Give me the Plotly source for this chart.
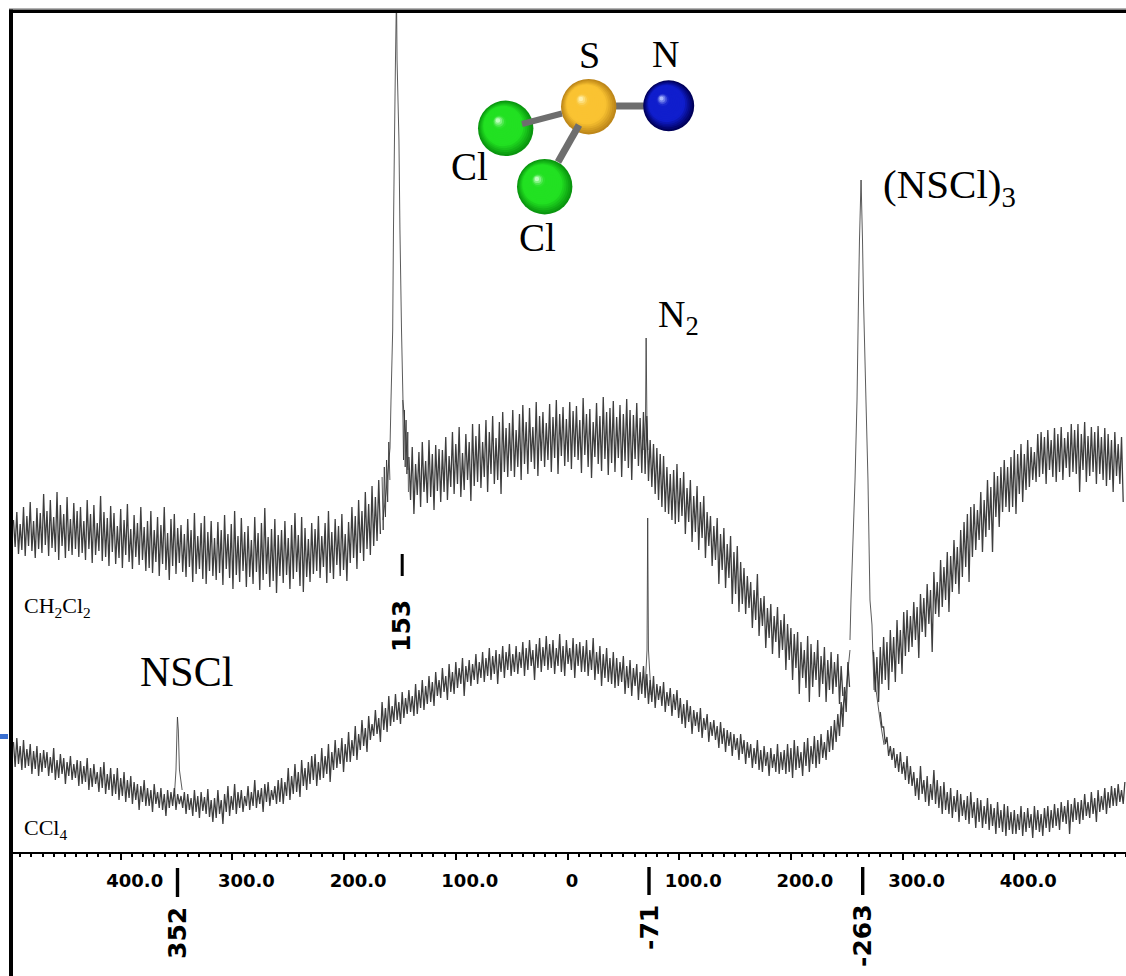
import plotly.graph_objects as go

W, H = 1126, 976
PX0, PX_PER_UNIT = 567.5, 1.117
AXIS_PY = 852
SAMPLE_STEP = 1.5

# Spectrum samples (intensity above the axis), alternating crest / trough
top_left_start = 496
top_left = [
332,305,340,298,328,302,345,296,336,306,350,301,331,294,344,303,339,299,358,307,
341,296,352,304,335,300,360,292,347,306,338,294,355,301,333,297,349,303,341,295,
345,299,331,292,352,303,338,289,347,297,329,301,356,291,340,295,334,286,346,300,
339,288,326,294,343,284,332,297,348,290,323,283,337,295,329,287,345,292,325,281,
331,284,341,279,322,290,335,276,327,288,345,282,319,272,333,286,338,278,324,289,
327,280,318,275,333,285,322,270,339,278,316,283,329,273,336,268,320,281,331,276,
314,272,330,279,322,267,337,283,318,274,328,263,341,277,316,270,334,281,320,265,
326,275,312,268,335,280,319,262,329,272,344,278,315,265,323,271,333,259,317,276,
322,269,331,277,314,263,327,273,339,280,317,266,335,260,324,275,313,270,329,278,
323,281,336,274,316,285,329,269,341,279,320,273,333,287,326,276,338,282,318,271,
330,289,345,294,336,283,352,299,341,291,360,303,348,297,366,306,355,311,372,318,
]
top_mid_start = 142
top_mid = [
395,352,405,338,388,357,400,345,410,360,391,349,412,355,398,342,407,361,403,350,
402,360,415,352,396,365,420,358,408,368,425,355,399,362,418,372,410,351,428,366,
416,370,428,364,410,375,432,360,420,378,436,368,414,372,430,358,440,380,424,375,
429,381,442,375,422,385,438,372,447,388,430,378,444,390,425,383,450,376,436,391,
440,385,429,392,448,380,435,394,452,378,438,396,445,386,433,390,450,383,441,395,
446,392,432,379,454,397,438,385,443,374,430,395,449,388,436,381,455,393,440,377,
444,389,451,380,435,394,447,375,438,391,453,384,442,372,437,393,449,386,434,379,
440,378,436,371,412,365,408,358,404,352,398,345,396,340,385,338,378,332,382,328,
388,330,374,336,380,318,364,330,372,310,356,320,366,302,350,314,356,294,340,306,
336,286,326,292,334,268,318,282,324,264,308,274,316,248,300,258,306,240,290,248,
284,238,276,244,270,224,262,232,278,216,254,226,256,204,244,214,248,198,236,210,
245,194,232,202,238,182,228,192,224,172,218,184,220,158,210,174,202,164,216,150,
208,165,200,172,212,155,196,168,205,150,192,162,200,158,190,165,198,148,186,156,
]
top_right_start = -274
top_right = [
200,160,195,150,205,168,215,172,210,162,222,180,215,170,232,188,222,178,240,196,
242,200,236,205,250,212,245,194,258,220,254,215,268,228,262,200,280,238,270,235,
292,245,285,252,300,240,296,260,312,268,305,258,322,275,330,285,338,270,345,295,
348,302,342,312,360,300,352,315,372,322,365,300,380,335,376,325,385,340,392,345,
385,340,395,345,402,338,398,358,408,350,398,362,412,365,405,372,400,370,418,375,
420,378,415,368,422,382,412,375,424,370,418,380,425,372,414,384,420,375,428,380,
422,378,428,360,418,382,430,370,416,376,425,380,420,368,426,378,415,372,424,366,
418,372,412,360,420,376,408,368,415,350,
]
bottom_left_start = 496
bottom_left = [
110,85,114,88,106,82,112,84,103,86,108,78,101,83,106,76,99,80,102,84,
100,76,95,79,104,72,92,74,98,78,94,68,90,76,96,72,88,74,92,66,
91,68,86,70,94,62,84,65,88,68,80,60,85,64,90,58,78,62,84,56,
78,58,84,52,74,56,80,50,72,54,76,48,70,52,68,42,66,50,72,46,
64,46,62,40,68,48,60,44,64,42,58,36,62,44,60,46,64,42,58,48,
56,44,60,38,58,42,54,36,62,40,56,34,60,41,55,38,63,35,52,30,
54,34,62,38,52,28,58,40,66,36,56,42,68,38,60,44,62,40,56,46,
66,42,60,46,72,44,62,48,64,40,68,50,70,46,62,52,66,48,72,50,
74,48,70,56,84,52,76,58,88,60,80,55,92,66,84,62,90,68,96,72,
98,66,90,72,104,74,96,78,108,70,100,82,112,84,104,88,114,80,108,90,
120,90,112,96,126,92,118,102,132,106,124,100,136,112,128,116,142,118,134,110,
150,122,144,120,156,126,146,130,158,132,150,128,160,134,154,138,162,140,156,136,
168,138,162,144,172,142,166,148,176,150,170,146,180,156,172,154,184,160,176,152,
188,160,180,158,190,164,184,168,194,156,186,170,192,166,188,172,198,168,190,174,
200,170,194,176,204,172,196,178,202,168,198,180,206,174,200,182,208,176,198,180,
206,178,200,184,210,176,204,182,212,186,202,172,208,184,214,180,205,186,216,182,
208,184,212,178,204,186,218,180,206,176,212,188,204,182,214,174,208,186,210,180,
206,180,212,176,202,182,214,172,200,178,206,166,198,174,204,170,194,168,200,164,
194,166,190,170,196,158,186,164,192,156,184,166,188,152,180,158,186,154,178,148,
172,150,176,144,168,152,166,146,170,140,160,146,164,136,158,142,162,134,154,128,
148,124,152,130,146,118,142,126,140,120,144,114,134,122,138,110,130,116,132,112,
126,104,130,108,124,100,122,106,120,96,118,102,114,92,118,98,112,88,110,94,
108,84,104,88,112,82,102,80,106,86,100,76,104,84,98,80,108,78,100,82,
102,78,108,80,104,74,112,82,106,84,100,76,110,86,114,80,106,88,116,84,
112,88,118,94,110,92,122,100,126,102,132,110,138,116,150,125,165,140,190,165,
]
bottom_right_start = -280
bottom_right = [
140,125,125,108,115,96,106,92,104,84,98,80,100,78,90,72,96,68,86,66,
80,56,74,52,86,58,72,50,76,46,68,52,82,48,72,44,66,38,70,42,
60,38,64,34,56,40,62,30,58,36,52,32,56,28,60,34,50,24,54,30,
52,24,46,28,54,22,48,26,44,18,50,24,42,20,48,16,46,22,40,18,
42,18,38,22,46,16,40,20,44,24,38,14,46,22,42,20,38,16,44,24,
46,20,42,24,48,26,44,22,50,30,46,28,52,18,48,30,54,32,50,28,
52,32,58,36,50,34,60,38,54,30,62,40,56,42,64,38,60,44,66,46,
64,46,68,50,62,48,70,
]

# Resonance peaks
peak153_x = [165.2,162.5,158.9,158,156.5,155.8,154.9,154,153.1,152.6,150.9,150,148.6,147.3,144.6,142.8]
peak153_y = [332,359,404,452,522,622,712,792,860,792,712,622,522,452,412,382]
flank153_left_x = [166,165,164,163,162,161,160,159]
flank153_left_y = [375,322,385,335,392,350,410,372]
flank153_right_x = [147.5,146.8,146,145.3,144.5,143.8,143,142.4]
flank153_right_y = [452,392,442,385,432,378,420,360]
peak263_x = [-252.9,-253.8,-257.4,-259.2,-260.5,-261.4,-262.8,-264.1,-265,-267.2,-269,-270.8,-272.6,-274.4]
peak263_y = [212,252,372,452,552,612,672,612,552,452,372,252,227,162]
n2_top_x = [-68.4,-69.8,-70.4,-71.1,-72]
n2_top_y = [402,432,514,432,402]
n2_low_x = [-69.4,-71.2,-71.8,-72.5,-74.8]
n2_low_y = [162,202,334,202,157]
nscl_x = [351.8,350.5,349.6,349.2,348.4,347.4,345]
nscl_y = [59,82,122,135,122,82,62]
ccl4_left_x = [-245.7,-249.3,-252.9]
ccl4_left_y = [140,162,202]
ccl4_right_x = [-273.5,-276.2,-279.8,-283.4]
ccl4_right_y = [202,162,132,107]

tick_vals = [400,300,200,100,0,-100,-200,-300,-400]
NB = "\u00a0"
tick_labels = ["400.0","300.0","200.0","100.0","0"+NB*3,"100.0","200.0","300.0","400.0"]

X_RANGE = [(PX0 - 13) / PX_PER_UNIT, (PX0 - W) / PX_PER_UNIT]
BAND = dict(color="rgba(20,20,20,0.82)", width=1.3, simplify=False)
THIN = dict(color="rgba(50,50,50,0.8)", width=1, simplify=False)

fig = go.Figure()
for start, vals in [(top_left_start, top_left), (top_mid_start, top_mid), (top_right_start, top_right),
                    (bottom_left_start, bottom_left), (bottom_right_start, bottom_right)]:
    fig.add_trace(go.Scatter(x=[start - SAMPLE_STEP * i for i in range(len(vals))], y=vals,
                             mode="lines", line=BAND, hoverinfo="skip", showlegend=False))
for xs, ys in [(peak153_x, peak153_y), (flank153_left_x, flank153_left_y), (flank153_right_x, flank153_right_y),
               (peak263_x, peak263_y), (n2_top_x, n2_top_y), (n2_low_x, n2_low_y),
               (nscl_x, nscl_y), (ccl4_left_x, ccl4_left_y), (ccl4_right_x, ccl4_right_y)]:
    fig.add_trace(go.Scatter(x=xs, y=ys, mode="lines", line=THIN, hoverinfo="skip", showlegend=False))


def px(x):
    return x / W


def py(y):
    return 1 - y / H


shapes = []


def rect(x0, y0, x1, y1, color):
    shapes.append(dict(type="rect", xref="paper", yref="paper", x0=px(x0), x1=px(x1), y0=py(y0), y1=py(y1),
                       fillcolor=color, line=dict(width=0)))


def lerp(a, b, t):
    return tuple(a[i] + (b[i] - a[i]) * t for i in range(3))


def sphere(cx, cy, r, edge, mid, light):
    n = 18
    for k in range(n):
        t = k / (n - 1)
        c = lerp(edge, mid, min(t / 0.3, 1)) if t < 0.78 else lerp(mid, light, ((t - 0.78) / 0.22) ** 1.6)
        rr = r * (1 - t * 0.92)
        ox, oy = cx - 0.28 * r * t, cy - 0.28 * r * t
        shapes.append(dict(type="circle", xref="paper", yref="paper",
                           x0=px(ox - rr), x1=px(ox + rr), y0=py(oy + rr), y1=py(oy - rr),
                           fillcolor="rgb(%d,%d,%d)" % c, line=dict(width=0)))


def bond(x0, y0, x1, y1, w):
    shapes.append(dict(type="line", xref="paper", yref="paper", x0=px(x0), x1=px(x1), y0=py(y0), y1=py(y1),
                       line=dict(color="#6e6e6e", width=w)))


# Frame and stray marks
rect(9, 8, W, 8.7, "#9a9a9a")
rect(9, 9.5, W, 13, "#000000")
rect(9, 9.5, 13, H, "#000000")
rect(0, 734, 8, 739, "#3a6fd0")

# Peak marker bars
rect(400.7, 554, 403.7, 576, "#000000")
rect(175.8, 868, 179.2, 897, "#000000")
rect(647.3, 867, 650.7, 895, "#000000")
rect(861, 867, 864.4, 895, "#000000")

# Molecule
bond(588, 106, 668, 106, 7)
sphere(505.7, 128.3, 27.7, (10, 150, 15), (34, 225, 34), (190, 255, 190))
sphere(544.7, 186.7, 27.7, (10, 150, 15), (34, 225, 34), (190, 255, 190))
sphere(668.7, 105.7, 25.5, (0, 0, 90), (16, 30, 205), (170, 185, 255))
sphere(588.7, 106.7, 27.7, (190, 135, 25), (250, 195, 50), (255, 240, 170))
bond(522, 124, 562, 113.5, 6)
bond(579, 125, 558, 162, 7)


def note(text, x, y, size, family="Liberation Serif", angle=0, bold=False):
    label = "<b>%s</b>" % text if bold else text
    return dict(text=label, xref="paper", yref="paper", x=px(x), y=py(y), xanchor="center", yanchor="middle",
                showarrow=False, textangle=angle, font=dict(family=family, size=size, color="#000000"))


BOLD = "DejaVu Sans"
annotations = [
    note("S", 589, 55, 38),
    note("N", 666, 54, 38),
    note("Cl", 469, 167, 39),
    note("Cl", 537, 238, 39),
    note("(NSCl)<sub>3</sub>", 949, 187, 41),
    note("N<sub>2</sub>", 678, 317, 38),
    note("NSCl", 186, 672, 42),
    note("CH<sub>2</sub>Cl<sub>2</sub>", 57, 607, 22),
    note("CCl<sub>4</sub>", 45, 829, 22),
    note("153", 401, 626, 25, BOLD, -90, True),
    note("352", 177, 933, 25, BOLD, -90, True),
    note("-71", 649, 928, 25, BOLD, -90, True),
    note("-263", 862, 936, 25, BOLD, -90, True),
]

fig.update_layout(
    width=W, height=H, margin=dict(l=0, r=0, t=0, b=0), autosize=False,
    paper_bgcolor="#ffffff", plot_bgcolor="#ffffff", showlegend=False,
    shapes=shapes, annotations=annotations,
    xaxis=dict(domain=[13 / W, 1], range=X_RANGE, anchor="y", showgrid=False, zeroline=False,
               showline=True, linecolor="#000000", linewidth=1.5,
               tickmode="array", tickvals=tick_vals, ticktext=tick_labels,
               ticks="outside", ticklen=6, tickwidth=1.5, tickcolor="#000000",
               ticklabelshift=-14, ticklabelstandoff=6, tickangle=0,
               tickfont=dict(family=BOLD, size=18, color="#000000", weight="bold"),
               minor=dict(ticks="outside", dtick=10, tick0=0, ticklen=3, tickwidth=1.5, tickcolor="#000000")),
    yaxis=dict(domain=[(H - AXIS_PY) / H, (H - 12) / H], range=[0, AXIS_PY - 12], showticklabels=False,
               ticks="", showline=False, showgrid=False, zeroline=False, tickmode="array", tickvals=[]),
)
fig.write_html("out.html", post_script="document.body.style.margin='0';document.body.style.overflow='hidden';",
               config={"displayModeBar": False})
